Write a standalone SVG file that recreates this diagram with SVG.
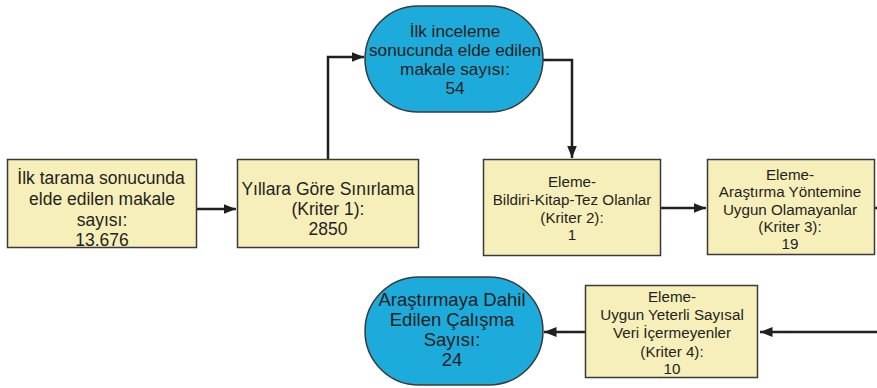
<svg xmlns="http://www.w3.org/2000/svg" width="877" height="388" viewBox="0 0 877 388">
<style>
.box{fill:#F7EFBA;stroke:#3a3a3a;stroke-width:1.5}
.term{fill:#1DABDC;stroke:#3a3a3a;stroke-width:1.5}
.t{font-family:"Liberation Sans",Arial,sans-serif;fill:#231F20;text-anchor:middle}
.big{font-size:17.5px}
.sm{font-size:15.2px}
.c{fill:none;stroke:#231F20;stroke-width:2.5}
</style>
<defs>
<marker id="ah" viewBox="0 0 10 10" refX="10" refY="5" markerWidth="5" markerHeight="5" markerUnits="strokeWidth" orient="auto">
<path d="M0,1 L10,5 L0,9 z" fill="#231F20"/>
</marker>
</defs>
<rect width="877" height="388" fill="#fff"/>
<g id="connectors">
<path class="c" d="M197,209 H236" marker-end="url(#ah)"/>
<path class="c" d="M328,160 V57 H364" marker-end="url(#ah)"/>
<path class="c" d="M543,60 H572 V158" marker-end="url(#ah)"/>
<path class="c" d="M661,208 H706" marker-end="url(#ah)"/>
<path class="c" d="M875,208 H877"/>
<path class="c" d="M877,332 H760" marker-end="url(#ah)"/>
<path class="c" d="M585,332 H544" marker-end="url(#ah)"/>
</g>
<g id="n1">
<rect class="box" x="7.5" y="159.5" width="189" height="88"/>
<text class="t big" x="102"><tspan x="101" y="184">İlk tarama sonucunda</tspan><tspan x="102" y="205">elde edilen makale</tspan><tspan x="102" y="226">sayısı:</tspan><tspan x="102" y="246">13.676</tspan></text>
</g>
<g id="n2">
<rect class="box" x="237.5" y="159.5" width="181" height="88"/>
<text class="t big" x="328"><tspan x="328" y="195">Yıllara Göre Sınırlama</tspan><tspan x="328" y="215">(Kriter 1):</tspan><tspan x="328" y="235">2850</tspan></text>
</g>
<g id="n3">
<rect class="term" x="365" y="6" width="178" height="106" rx="53" ry="53"/>
<text class="t" x="455" style="font-size:17.2px"><tspan x="455" y="37">İlk inceleme</tspan><tspan x="455" y="56">sonucunda elde edilen</tspan><tspan x="455" y="75">makale sayısı:</tspan><tspan x="455" y="94">54</tspan></text>
</g>
<g id="n4">
<rect class="box" x="483.5" y="159.5" width="177" height="96"/>
<text class="t sm" x="572"><tspan x="572" y="187">Eleme-</tspan><tspan x="572" y="205">Bildiri-Kitap-Tez Olanlar</tspan><tspan x="572" y="223">(Kriter 2):</tspan><tspan x="572" y="240">1</tspan></text>
</g>
<g id="n5">
<rect class="box" x="707.5" y="159.5" width="167" height="95"/>
<text class="t sm" x="790"><tspan x="790" y="180">Eleme-</tspan><tspan x="790" y="197">Araştırma Yöntemine</tspan><tspan x="790" y="215">Uygun Olamayanlar</tspan><tspan x="790" y="232">(Kriter 3):</tspan><tspan x="790" y="249">19</tspan></text>
</g>
<g id="n6">
<rect class="box" x="585.5" y="285.5" width="172" height="92"/>
<text class="t sm" x="672"><tspan x="672" y="302">Eleme-</tspan><tspan x="672" y="320">Uygun Yeterli Sayısal</tspan><tspan x="672" y="338">Veri İçermeyenler</tspan><tspan x="672" y="357">(Kriter 4):</tspan><tspan x="672" y="374">10</tspan></text>
</g>
<g id="n7">
<rect class="term" x="365" y="277" width="178" height="108" rx="54" ry="54"/>
<text class="t big" x="452" style="font-size:18.5px"><tspan x="452" y="306">Araştırmaya Dahil</tspan><tspan x="452" y="326">Edilen Çalışma</tspan><tspan x="452" y="346">Sayısı:</tspan><tspan x="452" y="366">24</tspan></text>
</g>
</svg>
